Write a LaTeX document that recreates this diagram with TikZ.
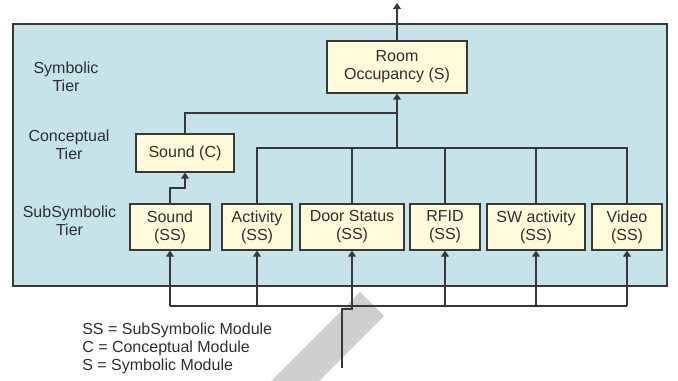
\documentclass[tikz,border=0pt]{standalone}
\usepackage{fontspec}
\setmainfont{Liberation Sans}
\usetikzlibrary{arrows.meta}
\definecolor{bgblue}{HTML}{C5E3E8}
\definecolor{boxfill}{HTML}{FFFBDA}
\definecolor{edge}{HTML}{383838}
\definecolor{txt}{HTML}{2E2E2E}
\definecolor{wmark}{HTML}{CFCFCF}
\tikzset{
  modbox/.style={draw=edge, fill=boxfill, line width=1pt, inner sep=0pt, align=center, text=txt,
    font=\fontsize{12}{13.6}\selectfont},
  tierlabel/.style={align=center, text=txt, inner sep=0pt, font=\fontsize{12}{13.6}\selectfont},
  wire/.style={draw=edge, line width=1pt},
  arr/.style={wire, -{Triangle[width=6pt,length=4.5pt]}},
}
\begin{document}
\begin{tikzpicture}[x=0.75pt, y=-0.75pt]
\useasboundingbox (0,0) rectangle (678,381);
% background panel
\node[draw=edge, fill=bgblue, line width=1pt, minimum width=654*0.75pt, minimum height=262*0.75pt, inner sep=0pt] (panel) at (340,155) {};
% watermark band
\fill[wmark] (360,292) -- (384,316) -- (319,381) -- (271,381) -- cycle;

% tier labels
\node[tierlabel] (tS) at (66,77) {Symbolic\\Tier};
\node[tierlabel] (tC) at (69,145) {Conceptual\\Tier};
\node[tierlabel] (tSS) at (69.5,221) {SubSymbolic\\Tier};

% modules
\node[modbox, minimum width=140*0.75pt, minimum height=52*0.75pt] (room) at (397,67) {Room\\Occupancy (S)};
\node[modbox, minimum width=98*0.75pt, minimum height=38*0.75pt] (soundC) at (185,153) {Sound (C)};
\node[modbox, minimum width=80*0.75pt, minimum height=46*0.75pt] (soundSS) at (170,227) {Sound\\(SS)};
\node[modbox, minimum width=70*0.75pt, minimum height=46*0.75pt] (activity) at (257,227) {Activity\\(SS)};
\node[modbox, minimum width=104*0.75pt, minimum height=46*0.75pt] (door) at (352,227) {Door Status\\(SS)};
\node[modbox, minimum width=70*0.75pt, minimum height=46*0.75pt] (rfid) at (445,227) {RFID\\(SS)};
\node[modbox, minimum width=98*0.75pt, minimum height=46*0.75pt] (sw) at (536,227) {SW activity\\(SS)};
\node[modbox, minimum width=70*0.75pt, minimum height=46*0.75pt] (video) at (627,227) {Video\\(SS)};

% helper coordinates
\coordinate (topout) at (397,3);
\coordinate (tb) at (397,148);
\coordinate (cj) at (397,113);
\coordinate (sj) at (185,188);
\coordinate (bb) at (342,306);
\coordinate (inA) at (342,368);
\coordinate (inB) at (342,309);
\coordinate (inC) at (352,309);

% output arrow
\draw[arr] (room.north) -- (topout);
% upper bus
\draw[wire] (activity.north) |- (video.north |- tb) -- (video.north);
\draw[wire] (door.north) -- (door.north |- tb);
\draw[wire] (rfid.north) -- (rfid.north |- tb);
\draw[wire] (sw.north) -- (sw.north |- tb);
\draw[wire] (soundC.north) |- (cj);
\draw[arr, line width=1.6pt] (tb) -- (room.south);
% sound SS to sound C
\draw[arr] (soundSS.north) |- (sj) -- (soundC.south);

% lower bus
\draw[wire] (soundSS.south |- bb) -- (video.south |- bb);
\foreach \m in {soundSS,activity,door,rfid,sw,video}
  \draw[arr] (\m.south |- bb) -- (\m.south);
% input line
\draw[wire] (inA) -- (inB) -- (inC) -- (door.south |- bb);

% legend
\node[tierlabel, align=left, anchor=west] (legend) at (82,348) {SS = SubSymbolic Module\\C = Conceptual Module\\S = Symbolic Module};
\end{tikzpicture}
\end{document}
